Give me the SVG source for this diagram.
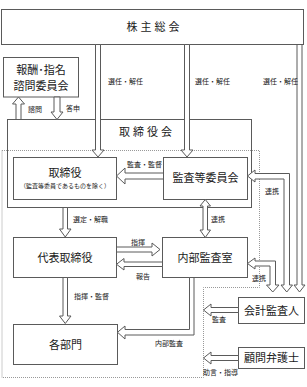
<svg xmlns="http://www.w3.org/2000/svg" width="307" height="387" viewBox="0 0 307 387">
<style>
.box{fill:#fff;stroke:#5a5a5a;stroke-width:1}
.frame{fill:none;stroke:#5a5a5a;stroke-width:1}
.arr{fill:#fff;stroke:#5a5a5a;stroke-width:1;stroke-linejoin:miter}
.dot{fill:none;stroke:#999;stroke-width:1;stroke-dasharray:1 1}
.t{font-family:"Noto Sans CJK JP","Noto Sans",sans-serif;font-size:11px;fill:#1a1a1a;text-anchor:middle}
.ts{font-family:"Noto Sans CJK JP","Noto Sans",sans-serif;font-size:6px;fill:#1a1a1a;text-anchor:middle}
.l{font-family:"Noto Sans CJK JP","Noto Sans",sans-serif;font-size:7px;fill:#1a1a1a}
</style>
<rect width="307" height="387" fill="#fff"/>
<g id="shareholders">
<rect class="box" x="1.5" y="9.5" width="302" height="35"/>
<text class="t" x="154.5" y="31" letter-spacing="3">株主総会</text>
</g>
<g id="nomination">
<rect class="box" x="3.5" y="57.5" width="75" height="39.5"/>
<text class="t" x="41" y="73.5" font-size="10.5">報酬･指名</text>
<text class="t" x="41" y="89.5" font-size="10.5">諮問委員会</text>
</g>
<g id="board">
<rect class="frame" x="7.5" y="119.5" width="244" height="88"/>
<text class="t" x="147" y="136" letter-spacing="3">取締役会</text>
</g>
<g id="region">
<path class="dot" d="M2,150.5H259.5V287.5H203.5V377.5H2Z"/>
</g>
<g id="directors">
<rect class="box" x="13.5" y="157.5" width="103" height="42"/>
<text class="t" x="65" y="177">取締役</text>
<text class="ts" x="65" y="188">（監査等委員であるものを除く）</text>
</g>
<g id="audit-committee">
<rect class="box" x="163.5" y="157.5" width="84" height="42"/>
<text class="t" x="205.5" y="182">監査等委員会</text>
</g>
<g id="representative">
<rect class="box" x="13.5" y="237.5" width="103" height="40"/>
<text class="t" x="65" y="261.5">代表取締役</text>
</g>
<g id="internal-audit">
<rect class="box" x="162.5" y="237.5" width="85" height="40"/>
<text class="t" x="205" y="261.5">内部監査室</text>
</g>
<g id="departments">
<rect class="box" x="13.5" y="324.5" width="104" height="40"/>
<text class="t" x="65.5" y="348.5">各部門</text>
</g>
<g id="accounting-auditor">
<rect class="box" x="238.5" y="297.5" width="66" height="26"/>
<text class="t" x="271.5" y="314.5">会計監査人</text>
</g>
<g id="lawyer">
<rect class="box" x="238.5" y="347.5" width="66" height="21"/>
<text class="t" x="271.5" y="362">顧問弁護士</text>
</g>
<g id="connectors">
<polygon class="arr" points="95.5,44.5 100.5,44.5 100.5,150 104,150 98,157 92,150 95.5,150"/>
<polygon class="arr" points="184.5,44.5 189.5,44.5 189.5,150 193,150 187,157 181,150 184.5,150"/>
<polygon class="arr" points="297,44.5 302,44.5 302,285 305,285 299.5,292 294,285 297,285"/>
<polygon class="arr" points="16,119.5 21,119.5 21,104 24.5,104 18.5,97 12.5,104 16,104"/>
<polygon class="arr" points="54,97 60,97 60,112 63,112 57,119.5 51,112 54,112"/>
<polygon class="arr" points="163.5,173 125,173 125,168 116.5,176 125,184 125,179 163.5,179"/>
<polygon class="arr" points="63,207.5 67.5,207.5 67.5,229 71,229 65.25,237 59.5,229 63,229"/>
<polygon class="arr" points="203,206 200,206 205.25,199.5 210.5,206 207.5,206 207.5,230 210.5,230 205.25,237.5 200,230 203,230"/>
<polygon class="arr" points="116.5,247 152,247 152,243 160,249.5 152,256 152,252 116.5,252"/>
<polygon class="arr" points="162.5,262 124,262 124,258.5 116.5,264.25 124,270 124,266.5 162.5,266.5"/>
<polygon class="arr" points="63,277.5 67.5,277.5 67.5,316 71,316 65.25,323.5 59.5,316 63,316"/>
<polygon class="arr" points="189.5,277.5 194,277.5 194,335 125,335 125,339 117.5,332.25 125,326 125,329.5 189.5,329.5"/>
<polygon class="arr" points="238.5,307.5 211,307.5 211,304 203.5,310 211,316 211,312.5 238.5,312.5"/>
<polygon class="arr" points="238.5,355.5 211,355.5 211,352 203.5,358 211,364 211,360.5 238.5,360.5"/>
<polygon class="arr" points="247.5,263.5 255,258 255,261 275.5,261 275.5,285 279,285 272.75,292 266.5,285 270,285 270,266 255,266 255,269"/>
<polygon class="arr" points="247.5,176 255,170 255,173.5 289.5,173.5 289.5,285 292.5,285 286.75,292 281,285 284,285 284,179 255,179 255,182"/>
<text class="l" x="108" y="84">選任・解任</text>
<text class="l" x="195" y="84">選任・解任</text>
<text class="l" x="263" y="84">選任・解任</text>
<text class="l" x="28" y="111.5">諮問</text>
<text class="l" x="66" y="110.5">答申</text>
<text class="l" x="127" y="166.5">監査・監督</text>
<text class="l" x="73" y="221.5">選定・解職</text>
<text class="l" x="211" y="221.5">連携</text>
<text class="l" x="265" y="193.5">連携</text>
<text class="l" x="131" y="244.5">指揮</text>
<text class="l" x="136" y="278.5">報告</text>
<text class="l" x="252" y="280.5">連携</text>
<text class="l" x="74" y="298.5">指揮・監督</text>
<text class="l" x="155" y="345.5">内部監査</text>
<text class="l" x="212" y="321.5">監査</text>
<text class="l" x="203" y="374.5">助言・指導</text>
</g>
</svg>
